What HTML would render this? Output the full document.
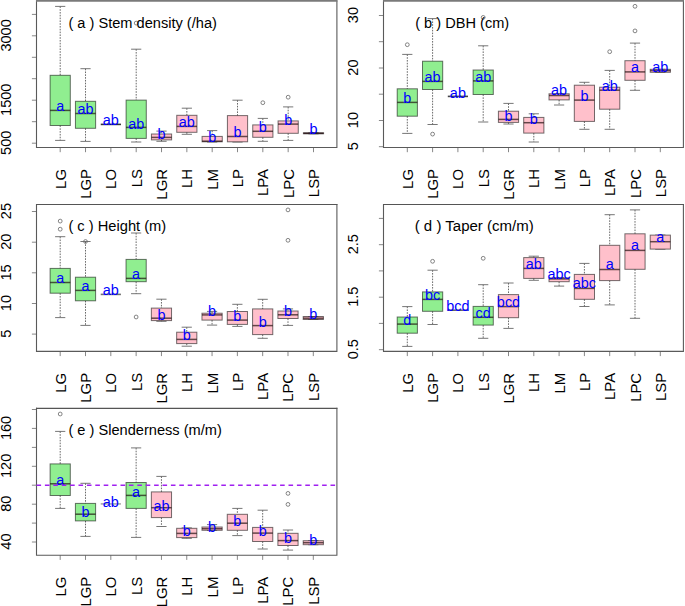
<!DOCTYPE html>
<html><head><meta charset="utf-8"><title>Boxplots</title>
<style>html,body{margin:0;padding:0;background:#fff;width:685px;height:606px;overflow:hidden}svg{display:block}</style>
</head><body>
<svg width="685" height="606" viewBox="0 0 685 606">
<style>
text{font-family:'Liberation Sans',sans-serif;font-size:14px}
.wh{stroke:#6a6a6a;stroke-width:1;stroke-dasharray:1.6 1.2}
.cap{stroke:#666;stroke-width:0.9}
.box{stroke:#000;stroke-opacity:0.55;stroke-width:1}
.med{stroke:#1a0a0a;stroke-opacity:0.68;stroke-width:1.5}
.out{fill:none;stroke:#666;stroke-width:0.8}
.lab{fill:#0000ff;text-anchor:middle}
.tk{stroke:#888;stroke-width:1}
.xl{fill:#000;text-anchor:end;font-size:14.9px}
.yl{fill:#000;text-anchor:middle;font-size:14.5px}
.ttl{fill:#000}
.frame{fill:none;stroke:#5a5a5a;stroke-width:1.1;stroke-linecap:square}
.ref{stroke:#a020f0;stroke-width:1.5;stroke-dasharray:4.6 3.8}
</style>
<rect width="685" height="606" fill="#fff"/>
<line x1="60.2" y1="6.4" x2="60.2" y2="75.3" class="wh"/>
<line x1="60.2" y1="125.5" x2="60.2" y2="140.4" class="wh"/>
<line x1="55.1" y1="6.4" x2="65.3" y2="6.4" class="cap"/>
<line x1="55.1" y1="140.4" x2="65.3" y2="140.4" class="cap"/>
<rect x="50.1" y="75.3" width="20.2" height="50.2" fill="#90ee90" class="box"/>
<line x1="50.1" y1="110.4" x2="70.3" y2="110.4" class="med"/>
<text x="60.2" y="110.7" class="lab" transform="translate(60.2 0) scale(1.03 1) translate(-60.2 0)">a</text>
<line x1="60.2" y1="147.5" x2="60.2" y2="152.2" class="tk"/>
<text class="xl" transform="translate(65.7 169) rotate(-90)">LG</text>
<line x1="85.53" y1="68.7" x2="85.53" y2="101.3" class="wh"/>
<line x1="85.53" y1="128.3" x2="85.53" y2="141.4" class="wh"/>
<line x1="80.43" y1="68.7" x2="90.63" y2="68.7" class="cap"/>
<line x1="80.43" y1="141.4" x2="90.63" y2="141.4" class="cap"/>
<rect x="75.43" y="101.3" width="20.2" height="27" fill="#90ee90" class="box"/>
<line x1="75.43" y1="113.5" x2="95.63" y2="113.5" class="med"/>
<text x="85.53" y="113.8" class="lab" transform="translate(85.53 0) scale(1.03 1) translate(-85.53 0)">ab</text>
<line x1="85.53" y1="147.5" x2="85.53" y2="152.2" class="tk"/>
<text class="xl" transform="translate(91.03 169) rotate(-90)">LGP</text>
<line x1="100.76" y1="124.4" x2="120.96" y2="124.4" stroke="#333" stroke-width="1.6"/>
<text x="110.86" y="124.8" class="lab" transform="translate(110.86 0) scale(1.03 1) translate(-110.86 0)">ab</text>
<line x1="110.86" y1="147.5" x2="110.86" y2="152.2" class="tk"/>
<text class="xl" transform="translate(116.36 169) rotate(-90)">LO</text>
<line x1="136.19" y1="49.2" x2="136.19" y2="100.1" class="wh"/>
<line x1="136.19" y1="138.4" x2="136.19" y2="142" class="wh"/>
<line x1="131.09" y1="49.2" x2="141.29" y2="49.2" class="cap"/>
<line x1="131.09" y1="142" x2="141.29" y2="142" class="cap"/>
<rect x="126.09" y="100.1" width="20.2" height="38.3" fill="#90ee90" class="box"/>
<line x1="126.09" y1="127.4" x2="146.29" y2="127.4" class="med"/>
<circle cx="136.19" cy="23.1" r="1.9" class="out"/>
<text x="136.19" y="129" class="lab" transform="translate(136.19 0) scale(1.03 1) translate(-136.19 0)">ab</text>
<line x1="136.19" y1="147.5" x2="136.19" y2="152.2" class="tk"/>
<text class="xl" transform="translate(141.69 169) rotate(-90)">LS</text>
<line x1="161.52" y1="131.1" x2="161.52" y2="134" class="wh"/>
<line x1="161.52" y1="139.9" x2="161.52" y2="141.3" class="wh"/>
<line x1="156.42" y1="131.1" x2="166.62" y2="131.1" class="cap"/>
<line x1="156.42" y1="141.3" x2="166.62" y2="141.3" class="cap"/>
<rect x="151.42" y="134" width="20.2" height="5.9" fill="#ffc0cb" class="box"/>
<line x1="151.42" y1="137.4" x2="171.62" y2="137.4" class="med"/>
<text x="161.52" y="138.7" class="lab" transform="translate(161.52 0) scale(1.03 1) translate(-161.52 0)">b</text>
<line x1="161.52" y1="147.5" x2="161.52" y2="152.2" class="tk"/>
<text class="xl" transform="translate(167.02 169) rotate(-90)">LGR</text>
<line x1="186.85" y1="108.2" x2="186.85" y2="115.3" class="wh"/>
<line x1="186.85" y1="132.3" x2="186.85" y2="134.3" class="wh"/>
<line x1="181.75" y1="108.2" x2="191.95" y2="108.2" class="cap"/>
<line x1="181.75" y1="134.3" x2="191.95" y2="134.3" class="cap"/>
<rect x="176.75" y="115.3" width="20.2" height="17" fill="#ffc0cb" class="box"/>
<line x1="176.75" y1="126.4" x2="196.95" y2="126.4" class="med"/>
<text x="186.85" y="126.8" class="lab" transform="translate(186.85 0) scale(1.03 1) translate(-186.85 0)">ab</text>
<line x1="186.85" y1="147.5" x2="186.85" y2="152.2" class="tk"/>
<text class="xl" transform="translate(192.35 169) rotate(-90)">LH</text>
<line x1="212.18" y1="130.6" x2="212.18" y2="136.4" class="wh"/>
<line x1="212.18" y1="141.8" x2="212.18" y2="142" class="wh"/>
<line x1="207.08" y1="130.6" x2="217.28" y2="130.6" class="cap"/>
<line x1="207.08" y1="142" x2="217.28" y2="142" class="cap"/>
<rect x="202.08" y="136.4" width="20.2" height="5.4" fill="#ffc0cb" class="box"/>
<line x1="202.08" y1="141.2" x2="222.28" y2="141.2" class="med"/>
<text x="212.18" y="142" class="lab" transform="translate(212.18 0) scale(1.03 1) translate(-212.18 0)">b</text>
<line x1="212.18" y1="147.5" x2="212.18" y2="152.2" class="tk"/>
<text class="xl" transform="translate(217.68 169) rotate(-90)">LM</text>
<line x1="237.51" y1="100.2" x2="237.51" y2="115.6" class="wh"/>
<line x1="237.51" y1="141.8" x2="237.51" y2="142" class="wh"/>
<line x1="232.41" y1="100.2" x2="242.61" y2="100.2" class="cap"/>
<line x1="232.41" y1="142" x2="242.61" y2="142" class="cap"/>
<rect x="227.41" y="115.6" width="20.2" height="26.2" fill="#ffc0cb" class="box"/>
<line x1="227.41" y1="136.5" x2="247.61" y2="136.5" class="med"/>
<text x="237.51" y="136.7" class="lab" transform="translate(237.51 0) scale(1.03 1) translate(-237.51 0)">b</text>
<line x1="237.51" y1="147.5" x2="237.51" y2="152.2" class="tk"/>
<text class="xl" transform="translate(243.01 169) rotate(-90)">LP</text>
<line x1="262.84" y1="118.4" x2="262.84" y2="124.9" class="wh"/>
<line x1="262.84" y1="137.3" x2="262.84" y2="141.3" class="wh"/>
<line x1="257.74" y1="118.4" x2="267.94" y2="118.4" class="cap"/>
<line x1="257.74" y1="141.3" x2="267.94" y2="141.3" class="cap"/>
<rect x="252.74" y="124.9" width="20.2" height="12.4" fill="#ffc0cb" class="box"/>
<line x1="252.74" y1="131.3" x2="272.94" y2="131.3" class="med"/>
<circle cx="262.84" cy="102.7" r="1.9" class="out"/>
<text x="262.84" y="131.6" class="lab" transform="translate(262.84 0) scale(1.03 1) translate(-262.84 0)">b</text>
<line x1="262.84" y1="147.5" x2="262.84" y2="152.2" class="tk"/>
<text class="xl" transform="translate(268.34 169) rotate(-90)">LPA</text>
<line x1="288.17" y1="106.9" x2="288.17" y2="120.9" class="wh"/>
<line x1="288.17" y1="133.3" x2="288.17" y2="140.4" class="wh"/>
<line x1="283.07" y1="106.9" x2="293.27" y2="106.9" class="cap"/>
<line x1="283.07" y1="140.4" x2="293.27" y2="140.4" class="cap"/>
<rect x="278.07" y="120.9" width="20.2" height="12.4" fill="#ffc0cb" class="box"/>
<line x1="278.07" y1="124.1" x2="298.27" y2="124.1" class="med"/>
<circle cx="288.17" cy="97.2" r="1.9" class="out"/>
<text x="288.17" y="125" class="lab" transform="translate(288.17 0) scale(1.03 1) translate(-288.17 0)">b</text>
<line x1="288.17" y1="147.5" x2="288.17" y2="152.2" class="tk"/>
<text class="xl" transform="translate(293.67 169) rotate(-90)">LPC</text>
<line x1="308.4" y1="132.8" x2="318.6" y2="132.8" class="cap"/>
<line x1="308.4" y1="133.8" x2="318.6" y2="133.8" class="cap"/>
<rect x="303.4" y="132.8" width="20.2" height="1" fill="#ffc0cb" class="box"/>
<line x1="303.4" y1="133.3" x2="323.6" y2="133.3" class="med"/>
<text x="313.5" y="134.1" class="lab" transform="translate(313.5 0) scale(1.03 1) translate(-313.5 0)">b</text>
<line x1="313.5" y1="147.5" x2="313.5" y2="152.2" class="tk"/>
<text class="xl" transform="translate(319 169) rotate(-90)">LSP</text>
<line x1="31.9" y1="143.2" x2="36.5" y2="143.2" class="tk"/>
<text class="yl" transform="translate(11.1 142.8) scale(1.05 1) rotate(-90)">500</text>
<line x1="31.9" y1="121.7" x2="36.5" y2="121.7" class="tk"/>
<line x1="31.9" y1="100.2" x2="36.5" y2="100.2" class="tk"/>
<text class="yl" transform="translate(11.1 99.8) scale(1.05 1) rotate(-90)">1500</text>
<line x1="31.9" y1="78.7" x2="36.5" y2="78.7" class="tk"/>
<line x1="31.9" y1="57.3" x2="36.5" y2="57.3" class="tk"/>
<line x1="31.9" y1="35.8" x2="36.5" y2="35.8" class="tk"/>
<text class="yl" transform="translate(11.1 35.4) scale(1.05 1) rotate(-90)">3000</text>
<line x1="31.9" y1="14.4" x2="36.5" y2="14.4" class="tk"/>
<text x="68.4" y="27.6" class="ttl" textLength="148.5" lengthAdjust="spacingAndGlyphs">( a ) Stem density (/ha)</text>
<path d="M36.5 147.5H336.9V0.9M36.5 0.9V147.5" class="frame"/>
<line x1="36" y1="0.9" x2="337.4" y2="0.9" stroke="#7a7a7a" stroke-width="1.6"/>
<line x1="407.3" y1="54.4" x2="407.3" y2="88.8" class="wh"/>
<line x1="407.3" y1="116.2" x2="407.3" y2="133.4" class="wh"/>
<line x1="402.2" y1="54.4" x2="412.4" y2="54.4" class="cap"/>
<line x1="402.2" y1="133.4" x2="412.4" y2="133.4" class="cap"/>
<rect x="397.2" y="88.8" width="20.2" height="27.4" fill="#90ee90" class="box"/>
<line x1="397.2" y1="102.4" x2="417.4" y2="102.4" class="med"/>
<circle cx="407.3" cy="44.7" r="1.9" class="out"/>
<text x="407.3" y="102.9" class="lab" transform="translate(407.3 0) scale(1.03 1) translate(-407.3 0)">b</text>
<line x1="407.3" y1="147.5" x2="407.3" y2="152.2" class="tk"/>
<text class="xl" transform="translate(412.8 169) rotate(-90)">LG</text>
<line x1="432.6" y1="18.6" x2="432.6" y2="61.2" class="wh"/>
<line x1="432.6" y1="89.5" x2="432.6" y2="124.5" class="wh"/>
<line x1="427.5" y1="18.6" x2="437.7" y2="18.6" class="cap"/>
<line x1="427.5" y1="124.5" x2="437.7" y2="124.5" class="cap"/>
<rect x="422.5" y="61.2" width="20.2" height="28.3" fill="#90ee90" class="box"/>
<line x1="422.5" y1="81.4" x2="442.7" y2="81.4" class="med"/>
<circle cx="432.6" cy="134.1" r="1.9" class="out"/>
<text x="432.6" y="81.9" class="lab" transform="translate(432.6 0) scale(1.03 1) translate(-432.6 0)">ab</text>
<line x1="432.6" y1="147.5" x2="432.6" y2="152.2" class="tk"/>
<text class="xl" transform="translate(438.1 169) rotate(-90)">LGP</text>
<line x1="447.8" y1="96.4" x2="468" y2="96.4" stroke="#444" stroke-width="1.6"/>
<text x="457.9" y="97.7" class="lab" transform="translate(457.9 0) scale(1.03 1) translate(-457.9 0)">ab</text>
<line x1="457.9" y1="147.5" x2="457.9" y2="152.2" class="tk"/>
<text class="xl" transform="translate(463.4 169) rotate(-90)">LO</text>
<line x1="483.2" y1="45.8" x2="483.2" y2="70" class="wh"/>
<line x1="483.2" y1="94.5" x2="483.2" y2="122" class="wh"/>
<line x1="478.1" y1="45.8" x2="488.3" y2="45.8" class="cap"/>
<line x1="478.1" y1="122" x2="488.3" y2="122" class="cap"/>
<rect x="473.1" y="70" width="20.2" height="24.5" fill="#90ee90" class="box"/>
<line x1="473.1" y1="80.9" x2="493.3" y2="80.9" class="med"/>
<circle cx="483.2" cy="17.4" r="1.9" class="out"/>
<text x="483.2" y="81.8" class="lab" transform="translate(483.2 0) scale(1.03 1) translate(-483.2 0)">ab</text>
<line x1="483.2" y1="147.5" x2="483.2" y2="152.2" class="tk"/>
<text class="xl" transform="translate(488.7 169) rotate(-90)">LS</text>
<line x1="508.5" y1="103.4" x2="508.5" y2="111.2" class="wh"/>
<line x1="508.5" y1="122.4" x2="508.5" y2="124" class="wh"/>
<line x1="503.4" y1="103.4" x2="513.6" y2="103.4" class="cap"/>
<line x1="503.4" y1="124" x2="513.6" y2="124" class="cap"/>
<rect x="498.4" y="111.2" width="20.2" height="11.2" fill="#ffc0cb" class="box"/>
<line x1="498.4" y1="119.4" x2="518.6" y2="119.4" class="med"/>
<text x="508.5" y="120.6" class="lab" transform="translate(508.5 0) scale(1.03 1) translate(-508.5 0)">b</text>
<line x1="508.5" y1="147.5" x2="508.5" y2="152.2" class="tk"/>
<text class="xl" transform="translate(514 169) rotate(-90)">LGR</text>
<line x1="533.8" y1="113.8" x2="533.8" y2="117.4" class="wh"/>
<line x1="533.8" y1="133.1" x2="533.8" y2="142" class="wh"/>
<line x1="528.7" y1="113.8" x2="538.9" y2="113.8" class="cap"/>
<line x1="528.7" y1="142" x2="538.9" y2="142" class="cap"/>
<rect x="523.7" y="117.4" width="20.2" height="15.7" fill="#ffc0cb" class="box"/>
<line x1="523.7" y1="122.7" x2="543.9" y2="122.7" class="med"/>
<text x="533.8" y="124.2" class="lab" transform="translate(533.8 0) scale(1.03 1) translate(-533.8 0)">b</text>
<line x1="533.8" y1="147.5" x2="533.8" y2="152.2" class="tk"/>
<text class="xl" transform="translate(539.3 169) rotate(-90)">LH</text>
<line x1="559.1" y1="99.9" x2="559.1" y2="105" class="wh"/>
<line x1="554" y1="93.8" x2="564.2" y2="93.8" class="cap"/>
<line x1="554" y1="105" x2="564.2" y2="105" class="cap"/>
<rect x="549" y="93.8" width="20.2" height="6.1" fill="#ffc0cb" class="box"/>
<line x1="549" y1="95.5" x2="569.2" y2="95.5" class="med"/>
<text x="559.1" y="95" class="lab" transform="translate(559.1 0) scale(1.03 1) translate(-559.1 0)">ab</text>
<line x1="559.1" y1="147.5" x2="559.1" y2="152.2" class="tk"/>
<text class="xl" transform="translate(564.6 169) rotate(-90)">LM</text>
<line x1="584.4" y1="82.3" x2="584.4" y2="85.2" class="wh"/>
<line x1="584.4" y1="121.4" x2="584.4" y2="129.3" class="wh"/>
<line x1="579.3" y1="82.3" x2="589.5" y2="82.3" class="cap"/>
<line x1="579.3" y1="129.3" x2="589.5" y2="129.3" class="cap"/>
<rect x="574.3" y="85.2" width="20.2" height="36.2" fill="#ffc0cb" class="box"/>
<line x1="574.3" y1="100.1" x2="594.5" y2="100.1" class="med"/>
<text x="584.4" y="100.9" class="lab" transform="translate(584.4 0) scale(1.03 1) translate(-584.4 0)">b</text>
<line x1="584.4" y1="147.5" x2="584.4" y2="152.2" class="tk"/>
<text class="xl" transform="translate(589.9 169) rotate(-90)">LP</text>
<line x1="609.7" y1="70.4" x2="609.7" y2="87.2" class="wh"/>
<line x1="609.7" y1="109.2" x2="609.7" y2="129.3" class="wh"/>
<line x1="604.6" y1="70.4" x2="614.8" y2="70.4" class="cap"/>
<line x1="604.6" y1="129.3" x2="614.8" y2="129.3" class="cap"/>
<rect x="599.6" y="87.2" width="20.2" height="22" fill="#ffc0cb" class="box"/>
<line x1="599.6" y1="90.2" x2="619.8" y2="90.2" class="med"/>
<circle cx="609.7" cy="51.7" r="1.9" class="out"/>
<text x="609.7" y="91.2" class="lab" transform="translate(609.7 0) scale(1.03 1) translate(-609.7 0)">ab</text>
<line x1="609.7" y1="147.5" x2="609.7" y2="152.2" class="tk"/>
<text class="xl" transform="translate(615.2 169) rotate(-90)">LPA</text>
<line x1="635" y1="43.1" x2="635" y2="60.7" class="wh"/>
<line x1="635" y1="80.3" x2="635" y2="90.3" class="wh"/>
<line x1="629.9" y1="43.1" x2="640.1" y2="43.1" class="cap"/>
<line x1="629.9" y1="90.3" x2="640.1" y2="90.3" class="cap"/>
<rect x="624.9" y="60.7" width="20.2" height="19.6" fill="#ffc0cb" class="box"/>
<line x1="624.9" y1="71.9" x2="645.1" y2="71.9" class="med"/>
<circle cx="635" cy="6.3" r="1.9" class="out"/>
<circle cx="635" cy="30.9" r="1.9" class="out"/>
<text x="635" y="71.9" class="lab" transform="translate(635 0) scale(1.03 1) translate(-635 0)">a</text>
<line x1="635" y1="147.5" x2="635" y2="152.2" class="tk"/>
<text class="xl" transform="translate(640.5 169) rotate(-90)">LPC</text>
<line x1="655.2" y1="69.3" x2="665.4" y2="69.3" class="cap"/>
<line x1="655.2" y1="72.3" x2="665.4" y2="72.3" class="cap"/>
<rect x="650.2" y="69.3" width="20.2" height="3" fill="#ffc0cb" class="box"/>
<line x1="650.2" y1="70.6" x2="670.4" y2="70.6" class="med"/>
<text x="660.3" y="71.8" class="lab" transform="translate(660.3 0) scale(1.03 1) translate(-660.3 0)">ab</text>
<line x1="660.3" y1="147.5" x2="660.3" y2="152.2" class="tk"/>
<text class="xl" transform="translate(665.8 169) rotate(-90)">LSP</text>
<line x1="378.9" y1="146.7" x2="383.5" y2="146.7" class="tk"/>
<text class="yl" transform="translate(358.1 146.3) scale(1.05 1) rotate(-90)">5</text>
<line x1="378.9" y1="120.5" x2="383.5" y2="120.5" class="tk"/>
<text class="yl" transform="translate(358.1 120.1) scale(1.05 1) rotate(-90)">10</text>
<line x1="378.9" y1="94.2" x2="383.5" y2="94.2" class="tk"/>
<line x1="378.9" y1="68" x2="383.5" y2="68" class="tk"/>
<text class="yl" transform="translate(358.1 67.6) scale(1.05 1) rotate(-90)">20</text>
<line x1="378.9" y1="41.7" x2="383.5" y2="41.7" class="tk"/>
<line x1="378.9" y1="15.5" x2="383.5" y2="15.5" class="tk"/>
<text class="yl" transform="translate(358.1 15.1) scale(1.05 1) rotate(-90)">30</text>
<text x="415.2" y="27.6" class="ttl" textLength="94" lengthAdjust="spacingAndGlyphs">( b ) DBH (cm)</text>
<path d="M383.5 147.5H683.4V0.9M383.5 0.9V147.5" class="frame"/>
<line x1="383" y1="0.9" x2="683.9" y2="0.9" stroke="#7a7a7a" stroke-width="1.6"/>
<line x1="60.2" y1="236.7" x2="60.2" y2="268.4" class="wh"/>
<line x1="60.2" y1="293.2" x2="60.2" y2="317.6" class="wh"/>
<line x1="55.1" y1="236.7" x2="65.3" y2="236.7" class="cap"/>
<line x1="55.1" y1="317.6" x2="65.3" y2="317.6" class="cap"/>
<rect x="50.1" y="268.4" width="20.2" height="24.8" fill="#90ee90" class="box"/>
<line x1="50.1" y1="282.5" x2="70.3" y2="282.5" class="med"/>
<circle cx="60.2" cy="221.1" r="1.9" class="out"/>
<circle cx="60.2" cy="229.2" r="1.9" class="out"/>
<text x="60.2" y="282.8" class="lab" transform="translate(60.2 0) scale(1.03 1) translate(-60.2 0)">a</text>
<line x1="60.2" y1="351.4" x2="60.2" y2="356.1" class="tk"/>
<text class="xl" transform="translate(65.7 372.9) rotate(-90)">LG</text>
<line x1="85.51" y1="241.5" x2="85.51" y2="277.2" class="wh"/>
<line x1="85.51" y1="300.8" x2="85.51" y2="325.4" class="wh"/>
<line x1="80.41" y1="241.5" x2="90.61" y2="241.5" class="cap"/>
<line x1="80.41" y1="325.4" x2="90.61" y2="325.4" class="cap"/>
<rect x="75.41" y="277.2" width="20.2" height="23.6" fill="#90ee90" class="box"/>
<line x1="75.41" y1="290.4" x2="95.61" y2="290.4" class="med"/>
<circle cx="85.51" cy="241.5" r="1.9" class="out"/>
<text x="85.51" y="290.8" class="lab" transform="translate(85.51 0) scale(1.03 1) translate(-85.51 0)">a</text>
<line x1="85.51" y1="351.4" x2="85.51" y2="356.1" class="tk"/>
<text class="xl" transform="translate(91.01 372.9) rotate(-90)">LGP</text>
<line x1="100.72" y1="294.4" x2="120.92" y2="294.4" stroke="#707070" stroke-width="1.6"/>
<text x="110.82" y="294.7" class="lab" transform="translate(110.82 0) scale(1.03 1) translate(-110.82 0)">ab</text>
<line x1="110.82" y1="351.4" x2="110.82" y2="356.1" class="tk"/>
<text class="xl" transform="translate(116.32 372.9) rotate(-90)">LO</text>
<line x1="136.13" y1="233" x2="136.13" y2="259.4" class="wh"/>
<line x1="136.13" y1="281.7" x2="136.13" y2="293.7" class="wh"/>
<line x1="131.03" y1="233" x2="141.23" y2="233" class="cap"/>
<line x1="131.03" y1="293.7" x2="141.23" y2="293.7" class="cap"/>
<rect x="126.03" y="259.4" width="20.2" height="22.3" fill="#90ee90" class="box"/>
<line x1="126.03" y1="278.4" x2="146.23" y2="278.4" class="med"/>
<circle cx="136.13" cy="317" r="1.9" class="out"/>
<text x="136.13" y="279" class="lab" transform="translate(136.13 0) scale(1.03 1) translate(-136.13 0)">a</text>
<line x1="136.13" y1="351.4" x2="136.13" y2="356.1" class="tk"/>
<text class="xl" transform="translate(141.63 372.9) rotate(-90)">LS</text>
<line x1="161.44" y1="299.2" x2="161.44" y2="308.1" class="wh"/>
<line x1="161.44" y1="320.6" x2="161.44" y2="321.3" class="wh"/>
<line x1="156.34" y1="299.2" x2="166.54" y2="299.2" class="cap"/>
<line x1="156.34" y1="321.3" x2="166.54" y2="321.3" class="cap"/>
<rect x="151.34" y="308.1" width="20.2" height="12.5" fill="#ffc0cb" class="box"/>
<line x1="151.34" y1="318.2" x2="171.54" y2="318.2" class="med"/>
<text x="161.44" y="320.1" class="lab" transform="translate(161.44 0) scale(1.03 1) translate(-161.44 0)">b</text>
<line x1="161.44" y1="351.4" x2="161.44" y2="356.1" class="tk"/>
<text class="xl" transform="translate(166.94 372.9) rotate(-90)">LGR</text>
<line x1="186.75" y1="327.2" x2="186.75" y2="332.2" class="wh"/>
<line x1="186.75" y1="343.6" x2="186.75" y2="346.2" class="wh"/>
<line x1="181.65" y1="327.2" x2="191.85" y2="327.2" class="cap"/>
<line x1="181.65" y1="346.2" x2="191.85" y2="346.2" class="cap"/>
<rect x="176.65" y="332.2" width="20.2" height="11.4" fill="#ffc0cb" class="box"/>
<line x1="176.65" y1="339.4" x2="196.85" y2="339.4" class="med"/>
<text x="186.75" y="340.1" class="lab" transform="translate(186.75 0) scale(1.03 1) translate(-186.75 0)">b</text>
<line x1="186.75" y1="351.4" x2="186.75" y2="356.1" class="tk"/>
<text class="xl" transform="translate(192.25 372.9) rotate(-90)">LH</text>
<line x1="212.06" y1="311.4" x2="212.06" y2="313.2" class="wh"/>
<line x1="212.06" y1="320.1" x2="212.06" y2="325.1" class="wh"/>
<line x1="206.96" y1="311.4" x2="217.16" y2="311.4" class="cap"/>
<line x1="206.96" y1="325.1" x2="217.16" y2="325.1" class="cap"/>
<rect x="201.96" y="313.2" width="20.2" height="6.9" fill="#ffc0cb" class="box"/>
<line x1="201.96" y1="314.9" x2="222.16" y2="314.9" class="med"/>
<text x="212.06" y="316" class="lab" transform="translate(212.06 0) scale(1.03 1) translate(-212.06 0)">b</text>
<line x1="212.06" y1="351.4" x2="212.06" y2="356.1" class="tk"/>
<text class="xl" transform="translate(217.56 372.9) rotate(-90)">LM</text>
<line x1="237.37" y1="304.3" x2="237.37" y2="311.5" class="wh"/>
<line x1="237.37" y1="324.4" x2="237.37" y2="326.4" class="wh"/>
<line x1="232.27" y1="304.3" x2="242.47" y2="304.3" class="cap"/>
<line x1="232.27" y1="326.4" x2="242.47" y2="326.4" class="cap"/>
<rect x="227.27" y="311.5" width="20.2" height="12.9" fill="#ffc0cb" class="box"/>
<line x1="227.27" y1="320.1" x2="247.47" y2="320.1" class="med"/>
<text x="237.37" y="321" class="lab" transform="translate(237.37 0) scale(1.03 1) translate(-237.37 0)">b</text>
<line x1="237.37" y1="351.4" x2="237.37" y2="356.1" class="tk"/>
<text class="xl" transform="translate(242.87 372.9) rotate(-90)">LP</text>
<line x1="262.68" y1="299.3" x2="262.68" y2="308.9" class="wh"/>
<line x1="262.68" y1="334.6" x2="262.68" y2="338.3" class="wh"/>
<line x1="257.58" y1="299.3" x2="267.78" y2="299.3" class="cap"/>
<line x1="257.58" y1="338.3" x2="267.78" y2="338.3" class="cap"/>
<rect x="252.58" y="308.9" width="20.2" height="25.7" fill="#ffc0cb" class="box"/>
<line x1="252.58" y1="325.6" x2="272.78" y2="325.6" class="med"/>
<text x="262.68" y="326.6" class="lab" transform="translate(262.68 0) scale(1.03 1) translate(-262.68 0)">b</text>
<line x1="262.68" y1="351.4" x2="262.68" y2="356.1" class="tk"/>
<text class="xl" transform="translate(268.18 372.9) rotate(-90)">LPA</text>
<line x1="287.99" y1="308.9" x2="287.99" y2="311" class="wh"/>
<line x1="287.99" y1="318.5" x2="287.99" y2="325.4" class="wh"/>
<line x1="282.89" y1="308.9" x2="293.09" y2="308.9" class="cap"/>
<line x1="282.89" y1="325.4" x2="293.09" y2="325.4" class="cap"/>
<rect x="277.89" y="311" width="20.2" height="7.5" fill="#ffc0cb" class="box"/>
<line x1="277.89" y1="314.8" x2="298.09" y2="314.8" class="med"/>
<circle cx="287.99" cy="209.9" r="1.9" class="out"/>
<circle cx="287.99" cy="240.3" r="1.9" class="out"/>
<text x="287.99" y="316.1" class="lab" transform="translate(287.99 0) scale(1.03 1) translate(-287.99 0)">b</text>
<line x1="287.99" y1="351.4" x2="287.99" y2="356.1" class="tk"/>
<text class="xl" transform="translate(293.49 372.9) rotate(-90)">LPC</text>
<line x1="308.2" y1="316.5" x2="318.4" y2="316.5" class="cap"/>
<line x1="308.2" y1="319.5" x2="318.4" y2="319.5" class="cap"/>
<rect x="303.2" y="316.5" width="20.2" height="3" fill="#ffc0cb" class="box"/>
<line x1="303.2" y1="318.2" x2="323.4" y2="318.2" class="med"/>
<text x="313.3" y="319.3" class="lab" transform="translate(313.3 0) scale(1.03 1) translate(-313.3 0)">b</text>
<line x1="313.3" y1="351.4" x2="313.3" y2="356.1" class="tk"/>
<text class="xl" transform="translate(318.8 372.9) rotate(-90)">LSP</text>
<line x1="31.9" y1="334.1" x2="36.5" y2="334.1" class="tk"/>
<text class="yl" transform="translate(11.1 333.7) scale(1.05 1) rotate(-90)">5</text>
<line x1="31.9" y1="303.5" x2="36.5" y2="303.5" class="tk"/>
<text class="yl" transform="translate(11.1 303.1) scale(1.05 1) rotate(-90)">10</text>
<line x1="31.9" y1="272.8" x2="36.5" y2="272.8" class="tk"/>
<text class="yl" transform="translate(11.1 272.4) scale(1.05 1) rotate(-90)">15</text>
<line x1="31.9" y1="242.2" x2="36.5" y2="242.2" class="tk"/>
<text class="yl" transform="translate(11.1 241.8) scale(1.05 1) rotate(-90)">20</text>
<line x1="31.9" y1="211.5" x2="36.5" y2="211.5" class="tk"/>
<text class="yl" transform="translate(11.1 211.1) scale(1.05 1) rotate(-90)">25</text>
<text x="68.4" y="231.1" class="ttl" textLength="97.8" lengthAdjust="spacingAndGlyphs">( c ) Height (m)</text>
<path d="M36.5 351.4H336.9V204.5M36.5 204.5V351.4" class="frame"/>
<line x1="36" y1="204.5" x2="337.4" y2="204.5" stroke="#555" stroke-width="1.1"/>
<line x1="407.3" y1="306.6" x2="407.3" y2="317" class="wh"/>
<line x1="407.3" y1="333.2" x2="407.3" y2="346.4" class="wh"/>
<line x1="402.2" y1="306.6" x2="412.4" y2="306.6" class="cap"/>
<line x1="402.2" y1="346.4" x2="412.4" y2="346.4" class="cap"/>
<rect x="397.2" y="317" width="20.2" height="16.2" fill="#90ee90" class="box"/>
<line x1="397.2" y1="324.1" x2="417.4" y2="324.1" class="med"/>
<text x="407.3" y="325" class="lab" transform="translate(407.3 0) scale(1.03 1) translate(-407.3 0)">d</text>
<line x1="407.3" y1="351.4" x2="407.3" y2="356.1" class="tk"/>
<text class="xl" transform="translate(412.8 372.9) rotate(-90)">LG</text>
<line x1="432.6" y1="270.2" x2="432.6" y2="291.9" class="wh"/>
<line x1="432.6" y1="311.3" x2="432.6" y2="324.5" class="wh"/>
<line x1="427.5" y1="270.2" x2="437.7" y2="270.2" class="cap"/>
<line x1="427.5" y1="324.5" x2="437.7" y2="324.5" class="cap"/>
<rect x="422.5" y="291.9" width="20.2" height="19.4" fill="#90ee90" class="box"/>
<line x1="422.5" y1="299.4" x2="442.7" y2="299.4" class="med"/>
<circle cx="432.6" cy="261.3" r="1.9" class="out"/>
<text x="432.6" y="300.4" class="lab" transform="translate(432.6 0) scale(1.03 1) translate(-432.6 0)">bc</text>
<line x1="432.6" y1="351.4" x2="432.6" y2="356.1" class="tk"/>
<text class="xl" transform="translate(438.1 372.9) rotate(-90)">LGP</text>
<line x1="447.8" y1="310.2" x2="468" y2="310.2" stroke="#666" stroke-width="1.6"/>
<text x="457.9" y="310.7" class="lab" transform="translate(457.9 0) scale(1.03 1) translate(-457.9 0)">bcd</text>
<line x1="457.9" y1="351.4" x2="457.9" y2="356.1" class="tk"/>
<text class="xl" transform="translate(463.4 372.9) rotate(-90)">LO</text>
<line x1="483.2" y1="284.7" x2="483.2" y2="306.4" class="wh"/>
<line x1="483.2" y1="325.1" x2="483.2" y2="338.3" class="wh"/>
<line x1="478.1" y1="284.7" x2="488.3" y2="284.7" class="cap"/>
<line x1="478.1" y1="338.3" x2="488.3" y2="338.3" class="cap"/>
<rect x="473.1" y="306.4" width="20.2" height="18.7" fill="#90ee90" class="box"/>
<line x1="473.1" y1="317.3" x2="493.3" y2="317.3" class="med"/>
<circle cx="483.2" cy="258.3" r="1.9" class="out"/>
<text x="483.2" y="318.1" class="lab" transform="translate(483.2 0) scale(1.03 1) translate(-483.2 0)">cd</text>
<line x1="483.2" y1="351.4" x2="483.2" y2="356.1" class="tk"/>
<text class="xl" transform="translate(488.7 372.9) rotate(-90)">LS</text>
<line x1="508.5" y1="283" x2="508.5" y2="294.6" class="wh"/>
<line x1="508.5" y1="317.7" x2="508.5" y2="328.4" class="wh"/>
<line x1="503.4" y1="283" x2="513.6" y2="283" class="cap"/>
<line x1="503.4" y1="328.4" x2="513.6" y2="328.4" class="cap"/>
<rect x="498.4" y="294.6" width="20.2" height="23.1" fill="#ffc0cb" class="box"/>
<line x1="498.4" y1="306.6" x2="518.6" y2="306.6" class="med"/>
<text x="508.5" y="307" class="lab" transform="translate(508.5 0) scale(1.03 1) translate(-508.5 0)">bcd</text>
<line x1="508.5" y1="351.4" x2="508.5" y2="356.1" class="tk"/>
<text class="xl" transform="translate(514 372.9) rotate(-90)">LGR</text>
<line x1="533.8" y1="256.2" x2="533.8" y2="257.6" class="wh"/>
<line x1="533.8" y1="278.4" x2="533.8" y2="280.3" class="wh"/>
<line x1="528.7" y1="256.2" x2="538.9" y2="256.2" class="cap"/>
<line x1="528.7" y1="280.3" x2="538.9" y2="280.3" class="cap"/>
<rect x="523.7" y="257.6" width="20.2" height="20.8" fill="#ffc0cb" class="box"/>
<line x1="523.7" y1="268.4" x2="543.9" y2="268.4" class="med"/>
<text x="533.8" y="268.9" class="lab" transform="translate(533.8 0) scale(1.03 1) translate(-533.8 0)">ab</text>
<line x1="533.8" y1="351.4" x2="533.8" y2="356.1" class="tk"/>
<text class="xl" transform="translate(539.3 372.9) rotate(-90)">LH</text>
<line x1="559.1" y1="281.7" x2="559.1" y2="286.1" class="wh"/>
<line x1="554" y1="277.9" x2="564.2" y2="277.9" class="cap"/>
<line x1="554" y1="286.1" x2="564.2" y2="286.1" class="cap"/>
<rect x="549" y="277.9" width="20.2" height="3.8" fill="#ffc0cb" class="box"/>
<line x1="549" y1="278.9" x2="569.2" y2="278.9" class="med"/>
<text x="559.1" y="279" class="lab" transform="translate(559.1 0) scale(1.03 1) translate(-559.1 0)">abc</text>
<line x1="559.1" y1="351.4" x2="559.1" y2="356.1" class="tk"/>
<text class="xl" transform="translate(564.6 372.9) rotate(-90)">LM</text>
<line x1="584.4" y1="263.4" x2="584.4" y2="274.4" class="wh"/>
<line x1="584.4" y1="299.3" x2="584.4" y2="306.5" class="wh"/>
<line x1="579.3" y1="263.4" x2="589.5" y2="263.4" class="cap"/>
<line x1="579.3" y1="306.5" x2="589.5" y2="306.5" class="cap"/>
<rect x="574.3" y="274.4" width="20.2" height="24.9" fill="#ffc0cb" class="box"/>
<line x1="574.3" y1="288.4" x2="594.5" y2="288.4" class="med"/>
<text x="584.4" y="288.2" class="lab" transform="translate(584.4 0) scale(1.03 1) translate(-584.4 0)">abc</text>
<line x1="584.4" y1="351.4" x2="584.4" y2="356.1" class="tk"/>
<text class="xl" transform="translate(589.9 372.9) rotate(-90)">LP</text>
<line x1="609.7" y1="214.7" x2="609.7" y2="245.3" class="wh"/>
<line x1="609.7" y1="280.6" x2="609.7" y2="304.9" class="wh"/>
<line x1="604.6" y1="214.7" x2="614.8" y2="214.7" class="cap"/>
<line x1="604.6" y1="304.9" x2="614.8" y2="304.9" class="cap"/>
<rect x="599.6" y="245.3" width="20.2" height="35.3" fill="#ffc0cb" class="box"/>
<line x1="599.6" y1="269.5" x2="619.8" y2="269.5" class="med"/>
<text x="609.7" y="269.5" class="lab" transform="translate(609.7 0) scale(1.03 1) translate(-609.7 0)">a</text>
<line x1="609.7" y1="351.4" x2="609.7" y2="356.1" class="tk"/>
<text class="xl" transform="translate(615.2 372.9) rotate(-90)">LPA</text>
<line x1="635" y1="209.9" x2="635" y2="233.8" class="wh"/>
<line x1="635" y1="269.3" x2="635" y2="318.3" class="wh"/>
<line x1="629.9" y1="209.9" x2="640.1" y2="209.9" class="cap"/>
<line x1="629.9" y1="318.3" x2="640.1" y2="318.3" class="cap"/>
<rect x="624.9" y="233.8" width="20.2" height="35.5" fill="#ffc0cb" class="box"/>
<line x1="624.9" y1="250.4" x2="645.1" y2="250.4" class="med"/>
<text x="635" y="250.5" class="lab" transform="translate(635 0) scale(1.03 1) translate(-635 0)">a</text>
<line x1="635" y1="351.4" x2="635" y2="356.1" class="tk"/>
<text class="xl" transform="translate(640.5 372.9) rotate(-90)">LPC</text>
<line x1="655.2" y1="235.1" x2="665.4" y2="235.1" class="cap"/>
<line x1="655.2" y1="249.1" x2="665.4" y2="249.1" class="cap"/>
<rect x="650.2" y="235.1" width="20.2" height="14" fill="#ffc0cb" class="box"/>
<line x1="650.2" y1="241.7" x2="670.4" y2="241.7" class="med"/>
<text x="660.3" y="242.2" class="lab" transform="translate(660.3 0) scale(1.03 1) translate(-660.3 0)">a</text>
<line x1="660.3" y1="351.4" x2="660.3" y2="356.1" class="tk"/>
<text class="xl" transform="translate(665.8 372.9) rotate(-90)">LSP</text>
<line x1="378.9" y1="349.7" x2="383.5" y2="349.7" class="tk"/>
<text class="yl" transform="translate(358.1 349.3) scale(1.05 1) rotate(-90)">0.5</text>
<line x1="378.9" y1="323.4" x2="383.5" y2="323.4" class="tk"/>
<line x1="378.9" y1="297.2" x2="383.5" y2="297.2" class="tk"/>
<text class="yl" transform="translate(358.1 296.8) scale(1.05 1) rotate(-90)">1.5</text>
<line x1="378.9" y1="270.9" x2="383.5" y2="270.9" class="tk"/>
<line x1="378.9" y1="244.7" x2="383.5" y2="244.7" class="tk"/>
<text class="yl" transform="translate(358.1 244.3) scale(1.05 1) rotate(-90)">2.5</text>
<line x1="378.9" y1="218.4" x2="383.5" y2="218.4" class="tk"/>
<text x="414.7" y="231.1" class="ttl" textLength="119" lengthAdjust="spacingAndGlyphs">( d ) Taper (cm/m)</text>
<path d="M383.5 351.4H683.4V204.5M383.5 204.5V351.4" class="frame"/>
<line x1="383" y1="204.5" x2="683.9" y2="204.5" stroke="#555" stroke-width="1.1"/>
<line x1="60.2" y1="431.4" x2="60.2" y2="463.9" class="wh"/>
<line x1="60.2" y1="495.5" x2="60.2" y2="508.4" class="wh"/>
<line x1="55.1" y1="431.4" x2="65.3" y2="431.4" class="cap"/>
<line x1="55.1" y1="508.4" x2="65.3" y2="508.4" class="cap"/>
<rect x="50.1" y="463.9" width="20.2" height="31.6" fill="#90ee90" class="box"/>
<line x1="50.1" y1="483.8" x2="70.3" y2="483.8" class="med"/>
<circle cx="60.2" cy="414" r="1.9" class="out"/>
<text x="60.2" y="485.4" class="lab" transform="translate(60.2 0) scale(1.03 1) translate(-60.2 0)">a</text>
<line x1="60.2" y1="555.2" x2="60.2" y2="559.9" class="tk"/>
<text class="xl" transform="translate(65.7 576.7) rotate(-90)">LG</text>
<line x1="85.51" y1="483.3" x2="85.51" y2="503.4" class="wh"/>
<line x1="85.51" y1="520.9" x2="85.51" y2="536.4" class="wh"/>
<line x1="80.41" y1="483.3" x2="90.61" y2="483.3" class="cap"/>
<line x1="80.41" y1="536.4" x2="90.61" y2="536.4" class="cap"/>
<rect x="75.41" y="503.4" width="20.2" height="17.5" fill="#90ee90" class="box"/>
<line x1="75.41" y1="514.2" x2="95.61" y2="514.2" class="med"/>
<text x="85.51" y="517.2" class="lab" transform="translate(85.51 0) scale(1.03 1) translate(-85.51 0)">b</text>
<line x1="85.51" y1="555.2" x2="85.51" y2="559.9" class="tk"/>
<text class="xl" transform="translate(91.01 576.7) rotate(-90)">LGP</text>
<line x1="100.72" y1="503.9" x2="120.92" y2="503.9" stroke="#a8a8a8" stroke-width="1.6"/>
<text x="110.82" y="506.9" class="lab" transform="translate(110.82 0) scale(1.03 1) translate(-110.82 0)">ab</text>
<line x1="110.82" y1="555.2" x2="110.82" y2="559.9" class="tk"/>
<text class="xl" transform="translate(116.32 576.7) rotate(-90)">LO</text>
<line x1="136.13" y1="447.9" x2="136.13" y2="482.5" class="wh"/>
<line x1="136.13" y1="508.4" x2="136.13" y2="537.4" class="wh"/>
<line x1="131.03" y1="447.9" x2="141.23" y2="447.9" class="cap"/>
<line x1="131.03" y1="537.4" x2="141.23" y2="537.4" class="cap"/>
<rect x="126.03" y="482.5" width="20.2" height="25.9" fill="#90ee90" class="box"/>
<line x1="126.03" y1="495.4" x2="146.23" y2="495.4" class="med"/>
<text x="136.13" y="496.9" class="lab" transform="translate(136.13 0) scale(1.03 1) translate(-136.13 0)">a</text>
<line x1="136.13" y1="555.2" x2="136.13" y2="559.9" class="tk"/>
<text class="xl" transform="translate(141.63 576.7) rotate(-90)">LS</text>
<line x1="161.44" y1="476.4" x2="161.44" y2="491.9" class="wh"/>
<line x1="161.44" y1="517.6" x2="161.44" y2="526.5" class="wh"/>
<line x1="156.34" y1="476.4" x2="166.54" y2="476.4" class="cap"/>
<line x1="156.34" y1="526.5" x2="166.54" y2="526.5" class="cap"/>
<rect x="151.34" y="491.9" width="20.2" height="25.7" fill="#ffc0cb" class="box"/>
<line x1="151.34" y1="507.7" x2="171.54" y2="507.7" class="med"/>
<text x="161.44" y="510.9" class="lab" transform="translate(161.44 0) scale(1.03 1) translate(-161.44 0)">ab</text>
<line x1="161.44" y1="555.2" x2="161.44" y2="559.9" class="tk"/>
<text class="xl" transform="translate(166.94 576.7) rotate(-90)">LGR</text>
<line x1="186.75" y1="527.9" x2="186.75" y2="528.3" class="wh"/>
<line x1="186.75" y1="537.6" x2="186.75" y2="538.3" class="wh"/>
<line x1="181.65" y1="527.9" x2="191.85" y2="527.9" class="cap"/>
<line x1="181.65" y1="538.3" x2="191.85" y2="538.3" class="cap"/>
<rect x="176.65" y="528.3" width="20.2" height="9.3" fill="#ffc0cb" class="box"/>
<line x1="176.65" y1="533.4" x2="196.85" y2="533.4" class="med"/>
<text x="186.75" y="536.5" class="lab" transform="translate(186.75 0) scale(1.03 1) translate(-186.75 0)">b</text>
<line x1="186.75" y1="555.2" x2="186.75" y2="559.9" class="tk"/>
<text class="xl" transform="translate(192.25 576.7) rotate(-90)">LH</text>
<line x1="212.06" y1="524.6" x2="212.06" y2="527" class="wh"/>
<line x1="206.96" y1="524.6" x2="217.16" y2="524.6" class="cap"/>
<line x1="206.96" y1="530.3" x2="217.16" y2="530.3" class="cap"/>
<rect x="201.96" y="527" width="20.2" height="3.3" fill="#ffc0cb" class="box"/>
<line x1="201.96" y1="528.7" x2="222.16" y2="528.7" class="med"/>
<text x="212.06" y="531.9" class="lab" transform="translate(212.06 0) scale(1.03 1) translate(-212.06 0)">b</text>
<line x1="212.06" y1="555.2" x2="212.06" y2="559.9" class="tk"/>
<text class="xl" transform="translate(217.56 576.7) rotate(-90)">LM</text>
<line x1="237.37" y1="508.4" x2="237.37" y2="514.3" class="wh"/>
<line x1="237.37" y1="530.3" x2="237.37" y2="535.6" class="wh"/>
<line x1="232.27" y1="508.4" x2="242.47" y2="508.4" class="cap"/>
<line x1="232.27" y1="535.6" x2="242.47" y2="535.6" class="cap"/>
<rect x="227.27" y="514.3" width="20.2" height="16" fill="#ffc0cb" class="box"/>
<line x1="227.27" y1="523.2" x2="247.47" y2="523.2" class="med"/>
<text x="237.37" y="526.2" class="lab" transform="translate(237.37 0) scale(1.03 1) translate(-237.37 0)">b</text>
<line x1="237.37" y1="555.2" x2="237.37" y2="559.9" class="tk"/>
<text class="xl" transform="translate(242.87 576.7) rotate(-90)">LP</text>
<line x1="262.68" y1="510.2" x2="262.68" y2="527.4" class="wh"/>
<line x1="262.68" y1="541.5" x2="262.68" y2="549" class="wh"/>
<line x1="257.58" y1="510.2" x2="267.78" y2="510.2" class="cap"/>
<line x1="257.58" y1="549" x2="267.78" y2="549" class="cap"/>
<rect x="252.58" y="527.4" width="20.2" height="14.1" fill="#ffc0cb" class="box"/>
<line x1="252.58" y1="533.1" x2="272.78" y2="533.1" class="med"/>
<text x="262.68" y="536.2" class="lab" transform="translate(262.68 0) scale(1.03 1) translate(-262.68 0)">b</text>
<line x1="262.68" y1="555.2" x2="262.68" y2="559.9" class="tk"/>
<text class="xl" transform="translate(268.18 576.7) rotate(-90)">LPA</text>
<line x1="287.99" y1="530" x2="287.99" y2="533.3" class="wh"/>
<line x1="287.99" y1="545.5" x2="287.99" y2="550.1" class="wh"/>
<line x1="282.89" y1="530" x2="293.09" y2="530" class="cap"/>
<line x1="282.89" y1="550.1" x2="293.09" y2="550.1" class="cap"/>
<rect x="277.89" y="533.3" width="20.2" height="12.2" fill="#ffc0cb" class="box"/>
<line x1="277.89" y1="540.6" x2="298.09" y2="540.6" class="med"/>
<circle cx="287.99" cy="493.4" r="1.9" class="out"/>
<circle cx="287.99" cy="504.4" r="1.9" class="out"/>
<text x="287.99" y="543.2" class="lab" transform="translate(287.99 0) scale(1.03 1) translate(-287.99 0)">b</text>
<line x1="287.99" y1="555.2" x2="287.99" y2="559.9" class="tk"/>
<text class="xl" transform="translate(293.49 576.7) rotate(-90)">LPC</text>
<line x1="308.2" y1="540.7" x2="318.4" y2="540.7" class="cap"/>
<line x1="308.2" y1="544.7" x2="318.4" y2="544.7" class="cap"/>
<rect x="303.2" y="540.7" width="20.2" height="4" fill="#ffc0cb" class="box"/>
<line x1="303.2" y1="542.7" x2="323.4" y2="542.7" class="med"/>
<text x="313.3" y="545.4" class="lab" transform="translate(313.3 0) scale(1.03 1) translate(-313.3 0)">b</text>
<line x1="313.3" y1="555.2" x2="313.3" y2="559.9" class="tk"/>
<text class="xl" transform="translate(318.8 576.7) rotate(-90)">LSP</text>
<line x1="31.9" y1="542" x2="36.5" y2="542" class="tk"/>
<text class="yl" transform="translate(11.1 541.6) scale(1.05 1) rotate(-90)">40</text>
<line x1="31.9" y1="523.1" x2="36.5" y2="523.1" class="tk"/>
<line x1="31.9" y1="504.2" x2="36.5" y2="504.2" class="tk"/>
<text class="yl" transform="translate(11.1 503.8) scale(1.05 1) rotate(-90)">80</text>
<line x1="31.9" y1="485.2" x2="36.5" y2="485.2" class="tk"/>
<line x1="31.9" y1="466.3" x2="36.5" y2="466.3" class="tk"/>
<text class="yl" transform="translate(11.1 465.9) scale(1.05 1) rotate(-90)">120</text>
<line x1="31.9" y1="447.4" x2="36.5" y2="447.4" class="tk"/>
<line x1="31.9" y1="428.4" x2="36.5" y2="428.4" class="tk"/>
<text class="yl" transform="translate(11.1 428) scale(1.05 1) rotate(-90)">160</text>
<line x1="31.9" y1="409.5" x2="36.5" y2="409.5" class="tk"/>
<text x="68.4" y="434.9" class="ttl" textLength="153.4" lengthAdjust="spacingAndGlyphs">( e ) Slenderness (m/m)</text>
<path d="M36.5 555.2H336.9V408.4M36.5 408.4V555.2" class="frame"/>
<line x1="36" y1="408.4" x2="337.4" y2="408.4" stroke="#555" stroke-width="1.1"/>
<line x1="36.5" y1="485.3" x2="336.9" y2="485.3" class="ref"/>
</svg>
</body></html>
